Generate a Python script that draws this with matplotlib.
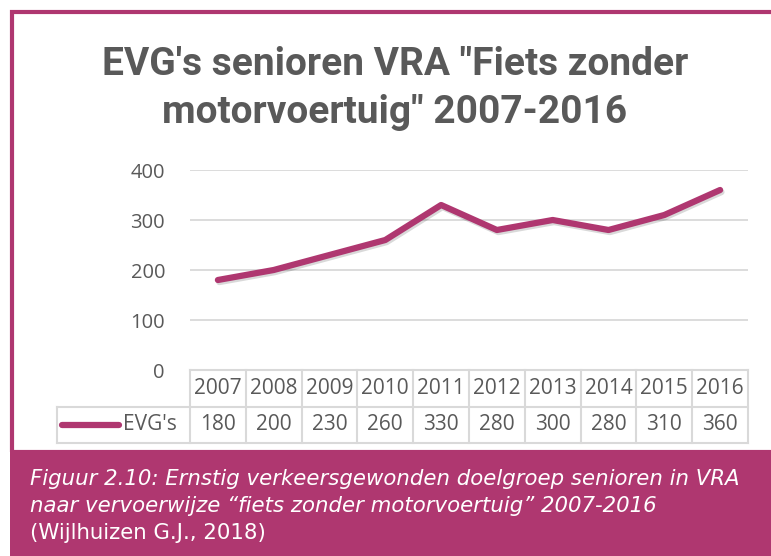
import matplotlib
matplotlib.use("Agg")
import matplotlib.pyplot as plt
import matplotlib.patheffects as pe
from matplotlib.patches import Rectangle
from matplotlib.transforms import blended_transform_factory

# data
years = ['2007', '2008', '2009', '2010', '2011', '2012', '2013', '2014', '2015', '2016']
evg = [180, 200, 230, 260, 330, 280, 300, 280, 310, 360]
y_ticks = [0, 100, 200, 300, 400]
series_name = "EVG's"
title_lines = ['EVG\'s senioren VRA "Fiets zonder', 'motorvoertuig" 2007-2016']
caption_lines = ['Figuur 2.10: Ernstig verkeersgewonden doelgroep senioren in VRA',
                 'naar vervoerwijze \u201cfiets zonder motorvoertuig\u201d 2007-2016']
source = '(Wijlhuizen G.J., 2018)'

pink = '#AF3770'
grey_text = '#595959'
grid_col = '#D9D9D9'
W, H = 771, 556


def fx(px):
    return px / W


def fy(py):
    return 1 - py / H


fig = plt.figure(figsize=(W / 100, H / 100), dpi=100)

# frame round the chart and caption box
fig.patches.append(Rectangle((fx(12), fy(452)), 1, fy(12) - fy(452), transform=fig.transFigure,
                             fill=False, edgecolor=pink, lw=3))
fig.patches.append(Rectangle((fx(10), 0), 1, fy(452), transform=fig.transFigure,
                             facecolor=pink, edgecolor='none'))

ax = fig.add_axes([fx(190), fy(370), (748 - 190) / W, 200 / H])
x = list(range(len(years)))
ax.plot(x, evg, color=pink, lw=4.5, solid_capstyle='round', solid_joinstyle='round',
        path_effects=[pe.SimpleLineShadow(offset=(1, -1.5), alpha=0.15, shadow_color='k'), pe.Normal()],
        zorder=3)
ax.set_xlim(-0.5, len(years) - 0.5)
ax.set_ylim(0, 400)
ax.set_yticks(y_ticks)
ax.set_xticks([])
ax.grid(axis='y', color=grid_col, lw=1.3)
ax.set_axisbelow(True)
for s in ax.spines.values():
    s.set_visible(False)
ax.tick_params(axis='y', length=0, pad=18, labelsize=14.5, labelcolor=grey_text)
for lab in ax.get_yticklabels():
    lab.set_family('Open Sans')

# data table under the axis
tr = blended_transform_factory(ax.transData, ax.transAxes)
label_left = -0.5 - (190 - 57) / 55.8
row1 = -0.185
row2 = -0.365
tbl = dict(color=grid_col, lw=1.5, clip_on=False, transform=tr)
ax.plot([-0.5, len(years) - 0.5], [0, 0], **tbl)
ax.plot([label_left, len(years) - 0.5], [row1, row1], **tbl)
ax.plot([label_left, len(years) - 0.5], [row2, row2], **tbl)
ax.plot([label_left, label_left], [row1, row2], **tbl)
for i in range(len(years) + 1):
    ax.plot([i - 0.5, i - 0.5], [0, row2], **tbl)
for i, (yr, v) in enumerate(zip(years, evg)):
    ax.text(i, row1 / 2, yr, transform=tr, ha='center', va='center', fontsize=15,
            color=grey_text, family='Open Sans')
    ax.text(i, (row1 + row2) / 2, str(v), transform=tr, ha='center', va='center', fontsize=15,
            color=grey_text, family='Open Sans')
ax.text(-0.5 - 13 / 55.8, (row1 + row2) / 2, series_name, transform=tr, ha='right', va='center',
        fontsize=15, color=grey_text, family='Open Sans')
ax.plot([-0.5 - 128 / 55.8, -0.5 - 71 / 55.8], [(row1 + row2) / 2] * 2, color=pink, lw=4.5,
        solid_capstyle='round', clip_on=False, transform=tr)

# title
title_font = dict(ha='center', va='baseline', fontsize=28, fontweight='bold', color=grey_text,
                  family=['Roboto', 'DejaVu Sans'])
fig.text(fx(395), fy(75), title_lines[0], **title_font)
fig.text(fx(395), fy(123), title_lines[1], **title_font)

# caption
cap_font = dict(ha='left', va='baseline', fontsize=15.3, color='white', family='DejaVu Sans')
fig.text(fx(30), fy(485), caption_lines[0], style='italic', **cap_font)
fig.text(fx(30), fy(512), caption_lines[1], style='italic', **cap_font)
fig.text(fx(30), fy(539), source, **cap_font)

fig.savefig('out.png', dpi=100)
